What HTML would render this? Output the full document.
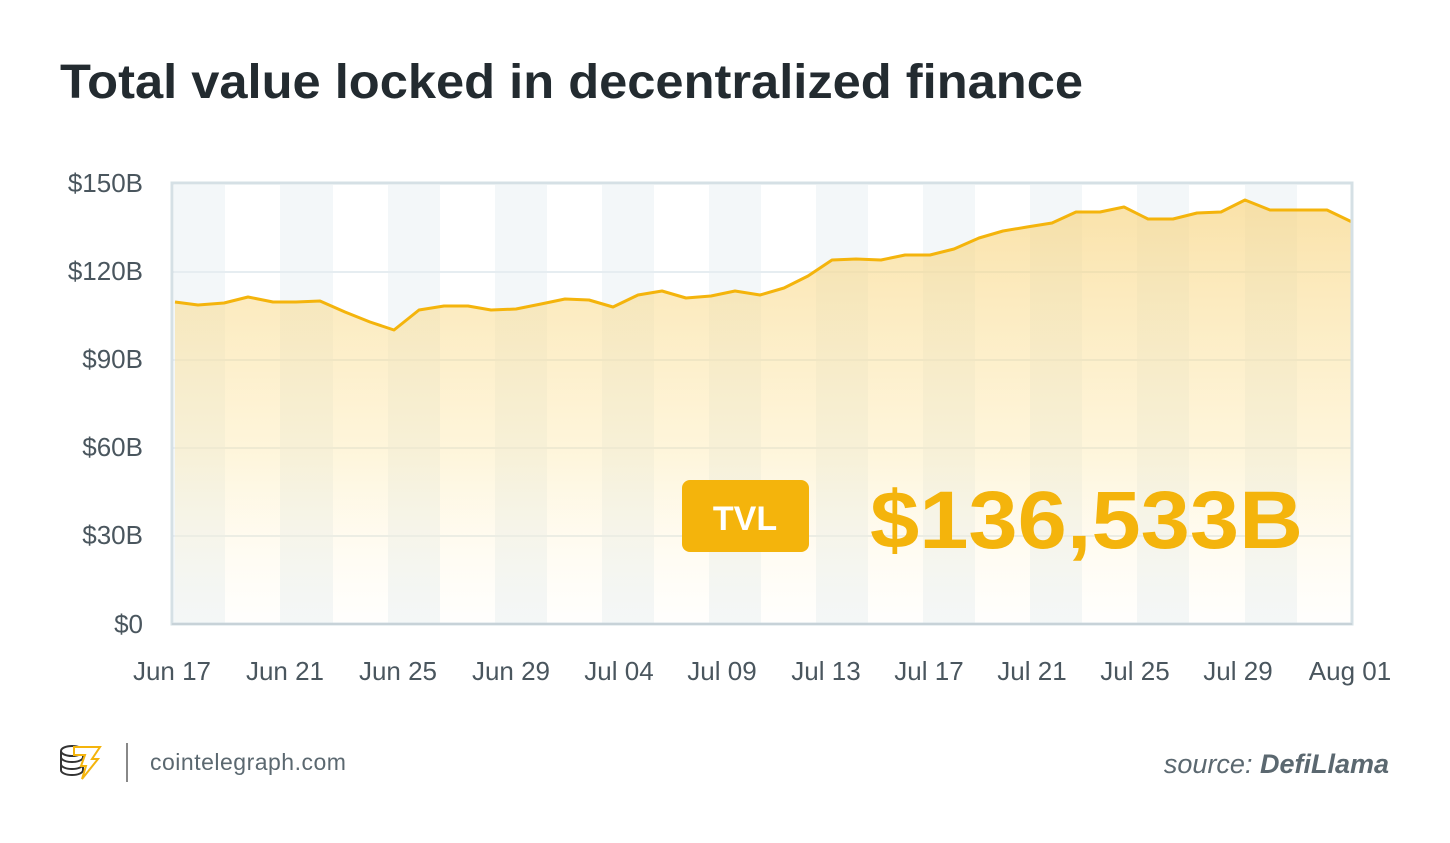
<!DOCTYPE html>
<html><head><meta charset="utf-8"><style>
body{margin:0;width:1450px;height:843px;background:#fff;overflow:hidden;font-family:"Liberation Sans",sans-serif}
</style></head><body>
<svg width="1450" height="843" xmlns="http://www.w3.org/2000/svg" style="position:absolute;left:0;top:0">
<defs>
<linearGradient id="g" gradientUnits="userSpaceOnUse" x1="0" y1="200" x2="0" y2="624">
<stop offset="0" stop-color="#f7d27a" stop-opacity="0.65"/>
<stop offset="0.6" stop-color="#fde7a6" stop-opacity="0.4"/>
<stop offset="1" stop-color="#fff3d0" stop-opacity="0.05"/>
</linearGradient>
</defs>
<text x="60" y="98" font-size="48" font-weight="bold" fill="#232b30" textLength="1023" lengthAdjust="spacingAndGlyphs">Total value locked in decentralized finance</text>
<g fill="#f3f7f9">
<rect x="174" y="185" width="51" height="439"/><rect x="280" y="185" width="53" height="439"/><rect x="388" y="185" width="52" height="439"/><rect x="495" y="185" width="52" height="439"/><rect x="602" y="185" width="52" height="439"/><rect x="709" y="185" width="52" height="439"/><rect x="816" y="185" width="52" height="439"/><rect x="923" y="185" width="52" height="439"/><rect x="1030" y="185" width="52" height="439"/><rect x="1137" y="185" width="52" height="439"/><rect x="1245" y="185" width="52" height="439"/>
</g>
<g stroke="#e6edf1" stroke-width="2">
<line x1="172" y1="272" x2="1352" y2="272"/><line x1="172" y1="360" x2="1352" y2="360"/><line x1="172" y1="448" x2="1352" y2="448"/><line x1="172" y1="536" x2="1352" y2="536"/>
</g>
<polygon fill="url(#g)" points="175,302 198,305 224,303 248,297 273,302 296,302 320,301 345,312 370,322 394,330 419,310 444,306 468,306 491,310 516,309 541,304 565,299 589,300 613,307 638,295 662,291 686,298 711,296 735,291 760,295 784,288 808,276 832,260 856,259 881,260 905,255 930,255 954,249 979,238 1003,231 1027,227 1052,223 1076,212 1100,212 1124,207 1148,219 1173,219 1197,213 1221,212 1245,200 1270,210 1294,210 1327,210 1352,222 1352,624 175,624"/>
<polyline fill="none" stroke="#f4b40c" stroke-width="3" stroke-linejoin="round" points="175,302 198,305 224,303 248,297 273,302 296,302 320,301 345,312 370,322 394,330 419,310 444,306 468,306 491,310 516,309 541,304 565,299 589,300 613,307 638,295 662,291 686,298 711,296 735,291 760,295 784,288 808,276 832,260 856,259 881,260 905,255 930,255 954,249 979,238 1003,231 1027,227 1052,223 1076,212 1100,212 1124,207 1148,219 1173,219 1197,213 1221,212 1245,200 1270,210 1294,210 1327,210 1352,222"/>
<rect x="172" y="183" width="1180" height="441" fill="none" stroke="#d5e0e5" stroke-width="3"/>
<line x1="172" y1="624" x2="1352" y2="624" stroke="#c7d2d8" stroke-width="2"/>
<g font-size="26" fill="#4a565e" text-anchor="end">
<text x="143" y="192">$150B</text><text x="143" y="280">$120B</text><text x="143" y="368">$90B</text><text x="143" y="456">$60B</text><text x="143" y="544">$30B</text><text x="143" y="633">$0</text>
</g>
<g font-size="26" fill="#4a565e" text-anchor="middle">
<text x="172" y="680">Jun 17</text><text x="285" y="680">Jun 21</text><text x="398" y="680">Jun 25</text><text x="511" y="680">Jun 29</text><text x="619" y="680">Jul 04</text><text x="722" y="680">Jul 09</text><text x="826" y="680">Jul 13</text><text x="929" y="680">Jul 17</text><text x="1032" y="680">Jul 21</text><text x="1135" y="680">Jul 25</text><text x="1238" y="680">Jul 29</text><text x="1350" y="680">Aug 01</text>
</g>
<rect x="682" y="480" width="127" height="72" rx="8" fill="#f4b40c"/>
<text x="745" y="530" font-size="34" font-weight="bold" fill="#fff" text-anchor="middle">TVL</text>
<text x="870" y="548" font-size="82" font-weight="bold" fill="#f4b40c" textLength="433" lengthAdjust="spacingAndGlyphs">$136,533B</text>
<g fill="none" stroke="#333" stroke-width="2">
<ellipse cx="72" cy="751" rx="11" ry="5"/><path d="M61 751v19c0 3 5 5 11 5s11-2 11-5v-19M61 757c0 3 5 5 11 5s11-2 11-5M61 764c0 3 5 5 11 5s11-2 11-5"/>
</g>
<path d="M74 747h26l-8 12h6l-16 20 4-13h-5l4-11h-11z" fill="#fff" stroke="#f4b40c" stroke-width="2"/>
<line x1="127" y1="743" x2="127" y2="782" stroke="#888" stroke-width="2"/>
<text x="150" y="770" font-size="23" fill="#5b6870" letter-spacing="0.5">cointelegraph.com</text>
<text x="1389" y="773" font-size="27" fill="#5b6870" font-style="italic" text-anchor="end">source: <tspan font-weight="bold">DefiLlama</tspan></text>
</svg>
</body></html>
